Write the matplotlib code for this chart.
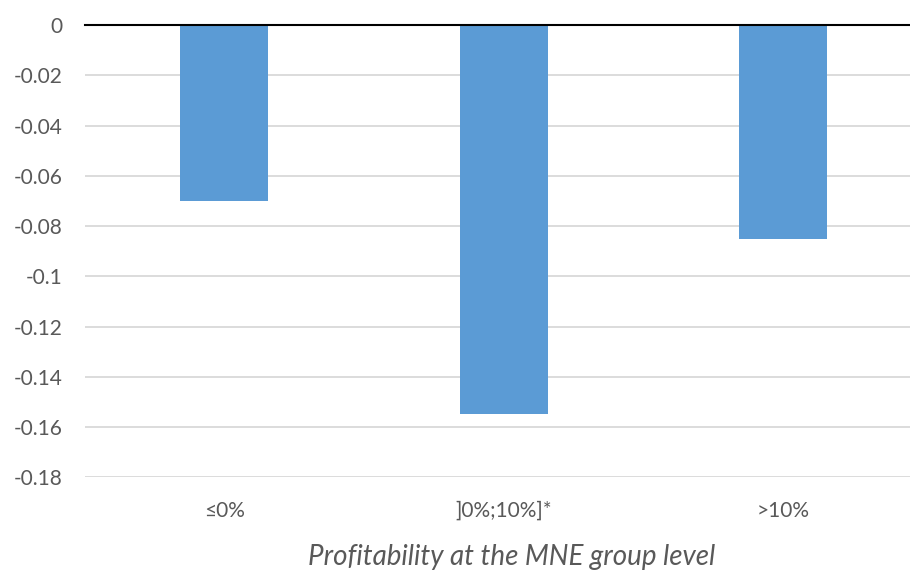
import matplotlib
matplotlib.use("Agg")
import matplotlib.pyplot as plt

# Data
categories = ["≤0%", "]0%;10%]*", ">10%"]
values = [-0.070, -0.155, -0.085]
yticks = [0, -0.02, -0.04, -0.06, -0.08, -0.1, -0.12, -0.14, -0.16, -0.18]
ytick_labels = ["0", "-0.02", "-0.04", "-0.06", "-0.08", "-0.1", "-0.12", "-0.14", "-0.16", "-0.18"]
xlabel = "Profitability at the MNE group level"

plt.rcParams["font.family"] = ["Lato", "DejaVu Sans"]

fig = plt.figure(figsize=(9.1, 5.75), dpi=100)
W, H = 910, 575
# axes runs past the right edge, as in the reference
ax = fig.add_axes([84.5 / W, 1 - 477.3 / H, 838.5 / W, 452.3 / H])

x = range(len(categories))
ax.bar(x, values, width=0.315, color="#5B9BD5", zorder=2)

ax.set_xlim(-0.5, 2.5)
ax.set_ylim(-0.18, 0)
ax.set_yticks(yticks)
ax.set_yticklabels(ytick_labels)
ax.set_xticks(list(x))
ax.set_xticklabels(categories)
ax.grid(axis="y", color="#D9D9D9", linewidth=1.3, zorder=0)
ax.axhline(0, color="black", linewidth=1.5, zorder=3, clip_on=False)

for s in ax.spines.values():
    s.set_visible(False)
ax.tick_params(axis="both", length=0, labelsize=15, colors="#595959")
ax.tick_params(axis="y", pad=16)
ax.tick_params(axis="x", pad=17)

fig.text(512 / W, 1 - 557 / H, xlabel, ha="center", va="center",
         fontsize=20, style="italic", color="#595959")

fig.savefig("out.png", dpi=100)
